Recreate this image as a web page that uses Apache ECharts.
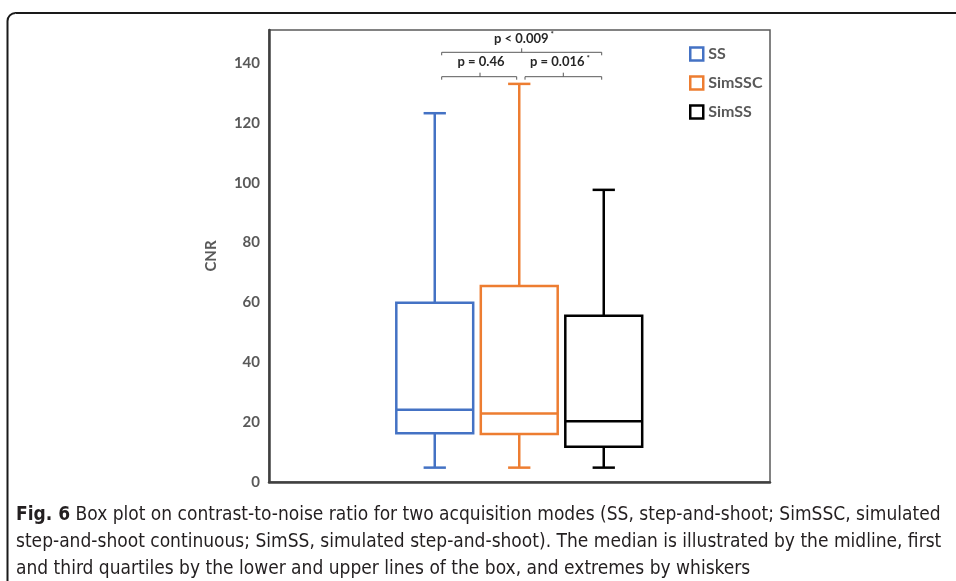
<!DOCTYPE html>
<html>
<head>
<meta charset="utf-8">
<style>html,body{margin:0;padding:0;background:#fff;}#c{width:956px;height:581px;}</style>
<script src="https://cdn.jsdelivr.net/npm/echarts@6/dist/echarts.min.js"></script>
</head>
<body>
<div id="c"></div>
<script>
const categories = ['SS', 'SimSSC', 'SimSS'];
const mins = [4.8, 4.8, 4.8];
const q1s = [16.3, 16.0, 11.8];
const medians = [24.1, 22.9, 20.3];
const q3s = [59.9, 65.5, 55.5];
const maxs = [123.2, 133.0, 97.6];
const colors = ['#4472C4', '#ED7D31', '#000000'];
const yTicks = [0, 20, 40, 60, 80, 100, 120, 140];

const chart = echarts.init(document.getElementById('c'));
const FONT = 'Lato, "Open Sans", sans-serif';
const CAPFONT = '"Liberation Sans Narrow", "DejaVu Sans Condensed", "Open Sans", sans-serif';

function makeRender(color) {
  return function (params, api) {
    const x = api.value(0);
    const pMin = api.coord([x, api.value(1)]);
    const pQ1 = api.coord([x, api.value(2)]);
    const pMed = api.coord([x, api.value(3)]);
    const pQ3 = api.coord([x, api.value(4)]);
    const pMax = api.coord([x, api.value(5)]);
    const bw = api.size([1, 0])[0] * 0.91;
    const cw = bw * 0.29;
    const cx = pMed[0];
    const st = { stroke: color, lineWidth: 2.5, fill: null };
    return {
      type: 'group',
      children: [
        { type: 'rect', shape: { x: cx - bw / 2, y: pQ3[1], width: bw, height: pQ1[1] - pQ3[1] }, style: { stroke: color, lineWidth: 2.5, fill: 'none' } },
        { type: 'line', shape: { x1: cx - bw / 2, y1: pMed[1], x2: cx + bw / 2, y2: pMed[1] }, style: st },
        { type: 'line', shape: { x1: cx, y1: pQ3[1], x2: cx, y2: pMax[1] }, style: st },
        { type: 'line', shape: { x1: cx, y1: pQ1[1], x2: cx, y2: pMin[1] }, style: st },
        { type: 'line', shape: { x1: cx - cw / 2, y1: pMax[1], x2: cx + cw / 2, y2: pMax[1] }, style: st },
        { type: 'line', shape: { x1: cx - cw / 2, y1: pMin[1], x2: cx + cw / 2, y2: pMin[1] }, style: st }
      ]
    };
  };
}

const series = categories.map((name, i) => ({
  name: name,
  type: 'custom',
  xAxisIndex: 1,
  yAxisIndex: 1,
  renderItem: makeRender(colors[i]),
  itemStyle: { color: '#fff', borderColor: colors[i], borderWidth: 2.5 },
  encode: { x: 0, y: [1, 2, 3, 4, 5] },
  data: [[i, mins[i], q1s[i], medians[i], q3s[i], maxs[i]]],
  silent: true
}));

const lineStyle = { stroke: '#595959', lineWidth: 1 };
function bracket(x1, x2, y, tickX) {
  return [
    { type: 'polyline', shape: { points: [[x1, y + 3], [x1, y], [x2, y], [x2, y + 3]] }, style: { stroke: '#595959', lineWidth: 1, fill: null } },
    { type: 'line', shape: { x1: tickX, y1: y, x2: tickX, y2: y - 4 }, style: lineStyle }
  ];
}
function ptext(x, y, txt, star) {
  return {
    type: 'text', x: x, y: y,
    style: {
      text: star ? txt + '{s|*}' : txt,
      font: 'bold 13px ' + FONT, fill: '#262626', align: 'center', verticalAlign: 'middle',
      rich: { s: { fontSize: 8, fontWeight: 'bold', fontFamily: FONT, fill: '#262626', verticalAlign: 'top', padding: [0, 0, 8, 2] } }
    }
  };
}

const graphics = [
  { type: 'rect', shape: { x: 7.5, y: 13, width: 1100, height: 1000, r: 8 }, style: { stroke: '#1a1a1a', lineWidth: 2, fill: 'none' }, z: -1 },
  ...bracket(441.7, 601.7, 52.3, 521.7),
  ...bracket(441.7, 516.7, 76.7, 480),
  ...bracket(525, 601.7, 76.7, 563.3),
  ptext(524, 38.5, 'p < 0.009', true),
  ptext(481, 62, 'p = 0.46', false),
  ptext(560, 62, 'p = 0.016', true),
  {
    type: 'text', x: 16, y: 501.5,
    style: {
      text: '{b|Fig. 6} Box plot on contrast-to-noise ratio for two acquisition modes (SS, step-and-shoot; SimSSC, simulated\nstep-and-shoot continuous; SimSS, simulated step-and-shoot). The median is illustrated by the midline, first\nand third quartiles by the lower and upper lines of the box, and extremes by whiskers',
      font: '19px ' + CAPFONT, fill: '#231f20', lineHeight: 27, verticalAlign: 'top',
      rich: { b: { fontWeight: 'bold', fontSize: 19, fontFamily: CAPFONT, fill: '#231f20', lineHeight: 27 } }
    }
  }
];

const option = {
  animation: false,
  backgroundColor: '#fff',
  grid: [
    { left: 269, right: 186, top: 30, bottom: 99, show: true, borderColor: '#595959', borderWidth: 1.5, backgroundColor: 'transparent' },
    { left: 392.5, right: 310, top: 30, bottom: 99 }
  ],
  xAxis: [
    { type: 'category', gridIndex: 0, data: [''], axisLine: { lineStyle: { color: '#404040', width: 2.5 } }, axisTick: { show: false }, axisLabel: { show: false } },
    { type: 'category', gridIndex: 1, data: categories, show: false }
  ],
  yAxis: [
    {
      type: 'value', gridIndex: 0, min: 0, max: 151, interval: 20,
      name: 'CNR', nameLocation: 'middle', nameGap: 50, nameRotate: 90,
      nameTextStyle: { fontFamily: FONT, fontWeight: 'bold', fontSize: 15, color: '#595959' },
      axisLine: { show: true, lineStyle: { color: '#404040', width: 2.5 } },
      axisTick: { show: false },
      splitLine: { show: false },
      axisLabel: { showMaxLabel: false, margin: 9, fontFamily: FONT, fontWeight: 'bold', fontSize: 15, color: '#595959',
        formatter: v => (yTicks.indexOf(v) >= 0 ? String(v) : '') }
    },
    { type: 'value', gridIndex: 1, min: 0, max: 151, show: false }
  ],
  legend: {
    orient: 'vertical', left: 689, top: 46, padding: 0, itemWidth: 13, itemHeight: 13, itemGap: 13,
    icon: 'rect',
    textStyle: { fontFamily: FONT, fontWeight: 'bold', fontSize: 16, color: '#595959' },
    data: categories.map((n, i) => ({ name: n, itemStyle: { color: '#fff', borderColor: colors[i], borderWidth: 2.5 } })),
    selectedMode: false
  },
  series: series,
  graphic: graphics
};
chart.setOption(option);
</script>
</body>
</html>
